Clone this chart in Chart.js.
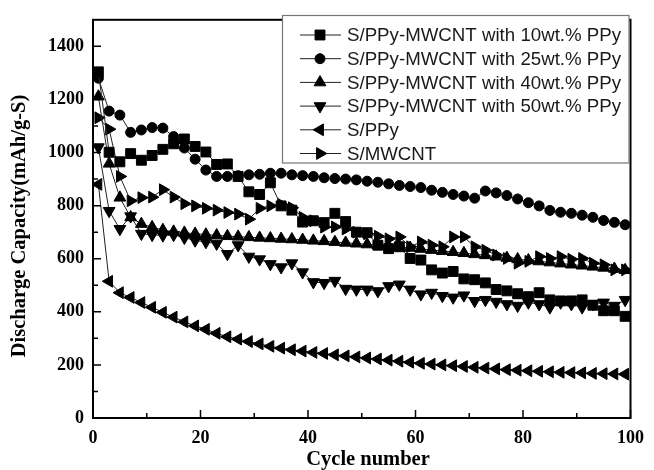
<!DOCTYPE html>
<html lang="en">
<head>
<meta charset="UTF-8">
<title>Discharge capacity vs cycle number</title>
<script src="https://cdn.jsdelivr.net/npm/chart.js@4.4.1/dist/chart.umd.min.js"></script>
<style>
  body { margin: 0; background: #fff; }
</style>
</head>
<body>
<canvas id="chart" width="654" height="470"></canvas>
<script>
// cycle numbers where markers sit (every other cycle)
const cycles = [1,3,5,7,9,11,13,15,17,19,21,23,25,27,29,31,33,35,37,39,41,43,45,47,49,
                51,53,55,57,59,61,63,65,67,69,71,73,75,77,79,81,83,85,87,89,91,93,95,97,99];

const ppy10 = [1304,1001,965,996,971,989,1012,1033,1051,1023,1002,955,957,910,852,842,886,799,783,738,
               743,736,771,740,700,698,651,638,645,601,595,558,546,552,524,521,509,484,479,468,
               457,472,445,441,441,445,425,404,404,383];
const ppy25 = [1280,1156,1141,1076,1085,1094,1092,1060,1017,975,934,910,910,913,916,918,922,922,916,913,
               910,905,902,900,897,892,888,882,876,872,868,858,850,842,836,828,855,848,838,825,
               811,799,782,775,771,764,756,744,737,728];
const ppy40 = [1211,958,830,756,731,719,708,702,698,694,691,688,685,683,681,679,677,675,673,671,
               668,666,663,660,657,654,651,648,645,641,637,633,629,625,621,617,613,608,603,598,
               594,590,586,582,578,574,570,566,562,557];
const ppy50 = [1020,780,712,760,694,690,688,690,679,669,663,657,618,651,608,598,580,568,583,549,
               512,509,517,487,484,484,478,497,503,484,466,472,460,454,462,441,445,438,429,423,
               435,429,417,435,429,417,429,435,423,445];
const sPPy  = [880,515,472,454,435,417,398,380,362,347,334,319,306,297,288,279,270,263,257,252,
               247,243,238,234,230,226,222,218,214,210,206,203,200,197,194,191,188,185,182,180,
               178,176,174,172,171,170,168,167,166,165];
const sMWCNT = [1131,1088,910,818,830,832,860,832,807,799,790,783,774,768,749,790,799,805,792,756,
                743,719,720,712,700,694,685,675,682,645,663,651,645,682,682,645,632,614,601,583,
                590,608,601,608,598,601,583,577,558,558];

const seriesNames = [
  'S/PPy-MWCNT with 10wt.% PPy',
  'S/PPy-MWCNT with 25wt.% PPy',
  'S/PPy-MWCNT with 40wt.% PPy',
  'S/PPy-MWCNT with 50wt.% PPy',
  'S/PPy',
  'S/MWCNT'
];
const xTitle = 'Cycle number';
const yTitle = 'Discharge Capacity(mAh/g-S)';

const xTicks = [0, 20, 40, 60, 80, 100];
const xMinor = [10, 30, 50, 70, 90];
const yTicks = [0, 200, 400, 600, 800, 1000, 1200, 1400];
const yMinor = [100, 300, 500, 700, 900, 1100, 1300];

const markers = [
  { style: 'rect', rot: 0, r: 7 },
  { style: 'circle', rot: 0, r: 5 },
  { style: 'triangle', rot: 0, r: 6.8 },
  { style: 'triangle', rot: 180, r: 6.8 },
  { style: 'triangle', rot: 270, r: 6.8 },
  { style: 'triangle', rot: 90, r: 6.8 }
];

function pairs(vals) {
  return vals.map((v, i) => ({ x: cycles[i], y: v }));
}

const allSeries = [ppy10, ppy25, ppy40, ppy50, sPPy, sMWCNT];
const datasets = allSeries.map((vals, i) => ({
  label: seriesNames[i],
  data: pairs(vals),
  borderColor: '#222',
  borderWidth: 1,
  pointStyle: markers[i].style,
  pointRotation: markers[i].rot,
  pointRadius: markers[i].r,
  pointBackgroundColor: '#000',
  pointBorderColor: '#000',
  pointBorderWidth: 1,
  tension: 0,
  fill: false
}));

const serifFamily = '"Liberation Serif", "Times New Roman", serif';
const tickFont = { family: serifFamily, size: 18, weight: 'bold' };

// frame, inward tick marks, axis titles and the boxed legend
const decor = {
  id: 'decor',
  afterDraw(chart) {
    const { ctx, chartArea: a, scales: { x, y } } = chart;
    ctx.save();
    ctx.strokeStyle = '#000';
    ctx.lineWidth = 2;
    ctx.strokeRect(a.left, a.top, a.right - a.left, a.bottom - a.top);

    ctx.lineWidth = 1.5;
    ctx.beginPath();
    yTicks.forEach(v => { const p = y.getPixelForValue(v); ctx.moveTo(a.left, p); ctx.lineTo(a.left + 8, p); });
    yMinor.forEach(v => { const p = y.getPixelForValue(v); ctx.moveTo(a.left, p); ctx.lineTo(a.left + 5, p); });
    xTicks.forEach(v => { const p = x.getPixelForValue(v); ctx.moveTo(p, a.bottom); ctx.lineTo(p, a.bottom - 8); });
    xMinor.forEach(v => { const p = x.getPixelForValue(v); ctx.moveTo(p, a.bottom); ctx.lineTo(p, a.bottom - 5); });
    ctx.stroke();

    // axis titles (the y one sits a bit below the middle, like the original)
    ctx.font = 'bold 20.5px ' + serifFamily;
    ctx.fillStyle = '#000';
    ctx.textAlign = 'center';
    ctx.textBaseline = 'middle';
    ctx.fillText(xTitle, 368, 460);
    ctx.save();
    ctx.translate(20, 226);
    ctx.rotate(-Math.PI / 2);
    ctx.fillText(yTitle, 0, 0);
    ctx.restore();

    // legend box
    const bx = 282.5, by = 15.5, bw = 346.5, bh = 147.5;
    ctx.fillStyle = '#fff';
    ctx.fillRect(bx, by, bw, bh);
    ctx.strokeStyle = '#777';
    ctx.lineWidth = 1.2;
    ctx.strokeRect(bx, by, bw, bh);

    ctx.font = '18.7px "Liberation Sans", Arial, sans-serif';
    ctx.textBaseline = 'middle';
    ctx.textAlign = 'left';
    chart.data.datasets.forEach((ds, i) => {
      const ry = 35 + i * 23.7;
      ctx.strokeStyle = '#222';
      ctx.lineWidth = 1;
      ctx.beginPath();
      ctx.moveTo(300, ry);
      ctx.lineTo(341, ry);
      ctx.stroke();
      ctx.fillStyle = '#000';
      ctx.strokeStyle = '#000';
      Chart.helpers.drawPoint(ctx, {
        pointStyle: ds.pointStyle, rotation: ds.pointRotation,
        radius: ds.pointRadius, borderWidth: 1
      }, 320, ry);
      ctx.fillStyle = '#1a1a1a';
      ctx.fillText(ds.label, 347, ry + 1);
    });
    ctx.restore();
  }
};

new Chart(document.getElementById('chart').getContext('2d'), {
  type: 'line',
  data: { datasets },
  options: {
    responsive: false,
    animation: false,
    layout: { padding: { top: 13, right: 16, left: 0, bottom: 0 } },
    plugins: { legend: { display: false }, tooltip: { enabled: false } },
    scales: {
      x: {
        type: 'linear', min: 0, max: 100,
        grid: { display: false, drawTicks: false },
        border: { display: false },
        afterBuildTicks: s => { s.ticks = xTicks.map(v => ({ value: v })); },
        afterFit: s => { s.height = 52; },
        ticks: { color: '#000', font: tickFont, padding: 10, maxRotation: 0, callback: v => String(v) },
        title: { display: false }
      },
      y: {
        type: 'linear', min: 0, max: 1500,
        grid: { display: false, drawTicks: false },
        border: { display: false },
        afterBuildTicks: s => { s.ticks = yTicks.map(v => ({ value: v })); },
        afterFit: s => { s.width = 93; },
        ticks: { color: '#000', font: tickFont, padding: 9, callback: v => String(v) },
        title: { display: false }
      }
    }
  },
  plugins: [decor]
});
</script>
</body>
</html>
